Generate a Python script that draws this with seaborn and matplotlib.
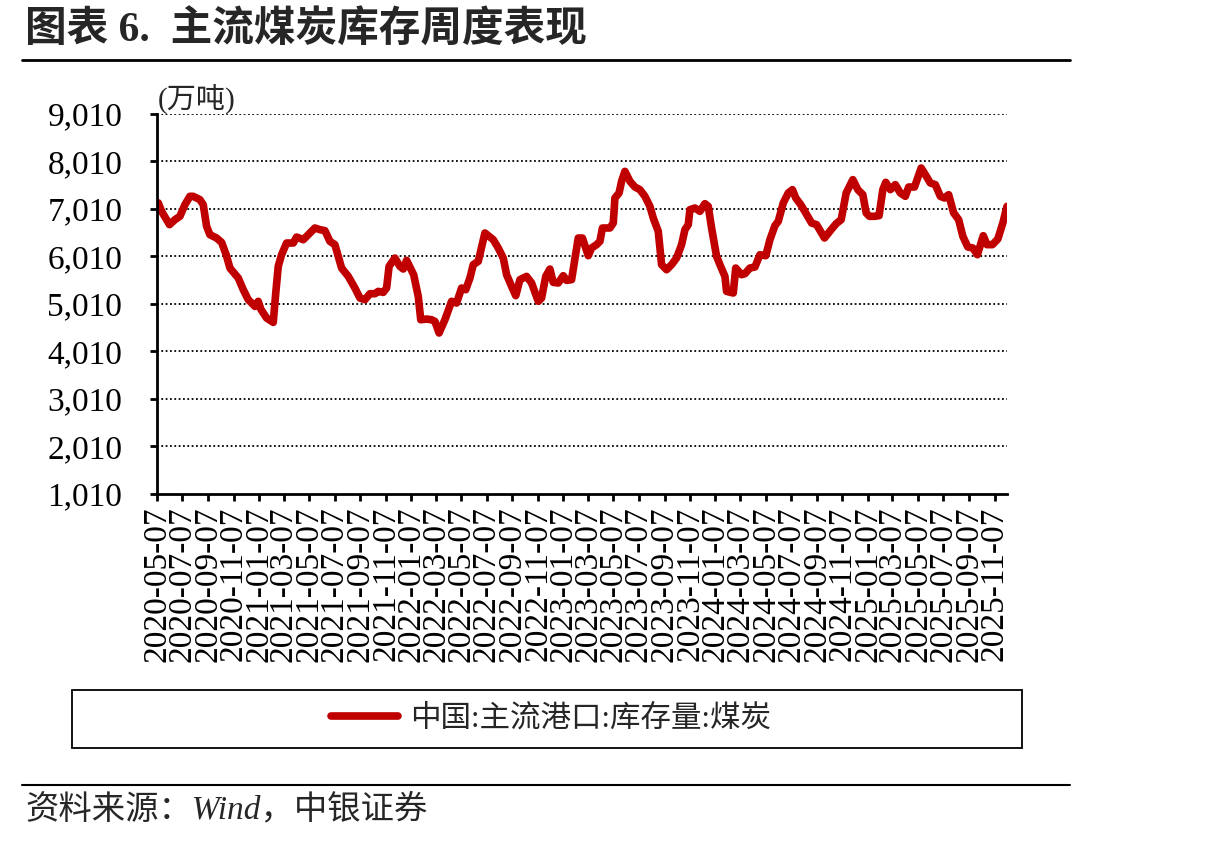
import numpy as np
import pandas as pd
import matplotlib
matplotlib.use("Agg")
import matplotlib.pyplot as plt
from matplotlib.patches import Rectangle
from matplotlib.lines import Line2D
import seaborn as sns

# ---------------- data ----------------
start_date = "2020-05-07"
day_offsets = [3, 11, 30, 43, 55, 67, 79, 87, 103, 111, 119, 127, 143, 155, 166, 175, 195, 207, 219, 235,
               243, 249, 263, 279, 285, 291, 299, 311, 327, 335, 351, 363, 379, 391, 403, 415, 427, 443, 459, 475,
               487, 499, 511, 523, 531, 543, 551, 557, 571, 583, 591, 599, 616, 627, 633, 647, 659, 667, 677, 691,
               707, 719, 731, 741, 751, 759, 771, 787, 807, 819, 831, 839, 851, 861, 871, 887, 899, 915, 923, 933,
               943, 951, 963, 975, 983, 995, 1011, 1021, 1035, 1043, 1055, 1063, 1069, 1087, 1095, 1099, 1109, 1115, 1123, 1135,
               1147, 1159, 1171, 1183, 1191, 1203, 1211, 1223, 1235, 1247, 1259, 1267, 1275, 1279, 1291, 1303, 1315, 1323, 1331, 1343,
               1351, 1363, 1367, 1383, 1389, 1403, 1411, 1423, 1435, 1447, 1461, 1471, 1483, 1491, 1503, 1515, 1525, 1533, 1545, 1557,
               1571, 1583, 1602, 1618, 1630, 1642, 1654, 1670, 1682, 1694, 1702, 1710, 1722, 1733, 1742, 1749, 1760, 1772, 1784, 1796,
               1804, 1818, 1834, 1844, 1856, 1868, 1880, 1890, 1900, 1912, 1924, 1934, 1946, 1958, 1969, 1983, 1992, 2005, 2018, 2030,
               2040]
inventory = [7140, 6961, 6680, 6785, 6856, 7101, 7277, 7277, 7207, 7101, 6645, 6469, 6399, 6308, 6048, 5767, 5557, 5311, 5101, 4960,
             5066, 4904, 4714, 4623, 5241, 5803, 6048, 6294, 6294, 6420, 6364, 6469, 6610, 6575, 6554, 6329, 6259, 5767, 5592, 5346,
             5136, 5101, 5227, 5227, 5276, 5255, 5346, 5803, 5978, 5803, 5746, 5929, 5627, 5171, 4679, 4693, 4679, 4644, 4399, 4679,
             5066, 5031, 5346, 5311, 5557, 5838, 5908, 6505, 6364, 6189, 5978, 5627, 5381, 5185, 5522, 5592, 5452, 5066, 5136, 5592,
             5746, 5466, 5452, 5606, 5508, 5522, 6399, 6399, 6027, 6189, 6259, 6329, 6610, 6610, 6715, 7242, 7347, 7593, 7803, 7593,
             7473, 7417, 7277, 7066, 6820, 6540, 5838, 5732, 5838, 5978, 6259, 6575, 6680, 6996, 7031, 6961, 7122, 7066, 6610, 6013,
             5838, 5592, 5276, 5241, 5767, 5627, 5648, 5767, 5789, 6048, 6027, 6364, 6659, 6750, 7136, 7347, 7417, 7242, 7101, 6926,
             6715, 6680, 6399, 6575, 6701, 6785, 7347, 7628, 7417, 7312, 6926, 6856, 6856, 6870, 7417, 7572, 7417, 7523, 7347, 7277,
             7473, 7473, 7873, 7733, 7558, 7523, 7277, 7242, 7312, 6926, 6785, 6434, 6210, 6189, 6048, 6448, 6259, 6259, 6378, 6715,
             7066]
y_ticks = [1010, 2010, 3010, 4010, 5010, 6010, 7010, 8010, 9010]
x_tick_labels = ["2020-05-07", "2020-07-07", "2020-09-07", "2020-11-07",
                 "2021-01-07", "2021-03-07", "2021-05-07", "2021-07-07", "2021-09-07", "2021-11-07",
                 "2022-01-07", "2022-03-07", "2022-05-07", "2022-07-07", "2022-09-07", "2022-11-07",
                 "2023-01-07", "2023-03-07", "2023-05-07", "2023-07-07", "2023-09-07", "2023-11-07",
                 "2024-01-07", "2024-03-07", "2024-05-07", "2024-07-07", "2024-09-07", "2024-11-07",
                 "2025-01-07", "2025-03-07", "2025-05-07", "2025-07-07", "2025-09-07", "2025-11-07"]
series_name = "中国:主流港口:库存量:煤炭"
x_end_days = 2040

# ---------------- style ----------------
sns.set_theme(style="white")
plt.rcParams['font.family'] = ['Liberation Serif', 'Noto Sans CJK SC', 'DejaVu Sans']
plt.rcParams['axes.unicode_minus'] = False

df = pd.DataFrame({
    "date": pd.to_datetime(start_date) + pd.to_timedelta(day_offsets, unit="D"),
    "value": inventory,
})

fig = plt.figure(figsize=(12.1, 8.42), dpi=100)
ax = fig.add_axes([157 / 1210, 1 - 494 / 842, (1007 - 157) / 1210, (494 - 114) / 842])

RED = "#C00000"
sns.lineplot(data=df, x="date", y="value", ax=ax, color=RED, linewidth=5.5,
             solid_joinstyle="round", solid_capstyle="round", legend=False)

# axes limits and ticks
ax.set_ylim(y_ticks[0], y_ticks[-1])
ax.set_yticks(y_ticks)
ax.set_yticklabels([f"{v:,}" for v in y_ticks], fontsize=24, family=['Liberation Serif'])
x0 = pd.to_datetime(start_date)
ax.set_xlim(x0, x0 + pd.Timedelta(days=x_end_days))
tick_dates = pd.to_datetime(x_tick_labels)
ax.set_xticks(tick_dates)
ax.set_xticklabels(x_tick_labels, rotation=90, fontsize=24, family=['Liberation Serif'])
ax.set_xlabel("")
ax.set_ylabel("")

# grid
ax.grid(False)
for v in y_ticks[1:]:
    ax.axhline(v, color="black", linewidth=1.3, linestyle=(0, (1, 1.4)), zorder=0)

for s in ["top", "right"]:
    ax.spines[s].set_visible(False)
for s in ["left", "bottom"]:
    ax.spines[s].set_color("black")
    ax.spines[s].set_linewidth(2)
ax.tick_params(axis="both", which="major", direction="out", length=5, width=2,
               color="black", labelcolor="black", left=True, bottom=True, pad=4)
ax.tick_params(axis="y", pad=20)
ax.tick_params(axis="x", pad=4)

# unit label
fig.text(158 / 1210, 1 - 99 / 842, "(万吨)", fontsize=21, ha="left", va="center",
         family=['Liberation Serif', 'Noto Sans CJK SC'])

# title
fig.text(25 / 1210, 1 - 31 / 842, "图表 6.  主流煤炭库存周度表现", fontsize=30, fontweight="bold",
         ha="left", va="center", family=['Liberation Serif', 'Noto Sans CJK SC'])
fig.add_artist(Line2D([22 / 1210, 1070 / 1210], [1 - 60 / 842, 1 - 60 / 842], color="black", linewidth=2))
fig.add_artist(Line2D([22 / 1210, 1070 / 1210], [1 - 785 / 842, 1 - 785 / 842], color="black", linewidth=1.5))

# legend box
fig.add_artist(Rectangle((72 / 1210, 1 - 748 / 842), (1022 - 72) / 1210, (748 - 690) / 842,
                         transform=fig.transFigure, fill=False, edgecolor="black", linewidth=1.3))
handle = Line2D([], [], color=RED, linewidth=5.5)
leg = fig.legend([handle], [series_name], loc="center", bbox_to_anchor=(551 / 1210, 1 - 719 / 842),
                 frameon=False, handlelength=2.2, handletextpad=0.4,
                 prop={'family': ['Liberation Serif', 'Noto Sans CJK SC'], 'size': 22})

# source
fig.text(25 / 1210, 1 - 810 / 842, "资料来源：Wind，中银证券", fontsize=24, style="italic",
         ha="left", va="center", family=['Liberation Serif', 'Noto Sans CJK SC'])

fig.savefig("out.png", dpi=100)
